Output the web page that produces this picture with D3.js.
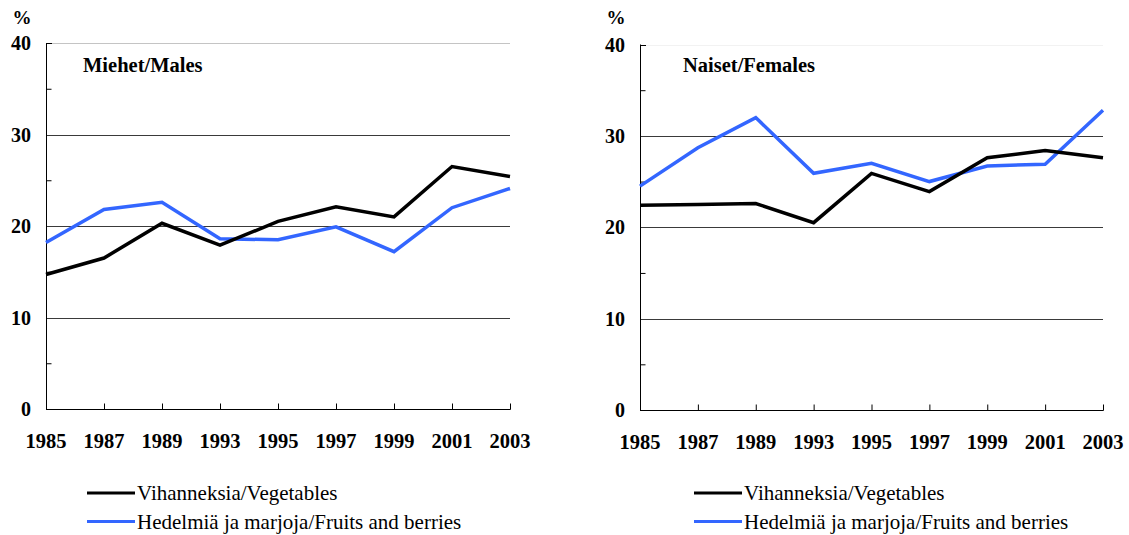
<!DOCTYPE html>
<html>
<head>
<meta charset="utf-8">
<script src="https://cdn.jsdelivr.net/npm/d3@7"></script>
<style>
  body { margin: 0; background: #fff; }
  svg { display: block; }
</style>
</head>
<body>
<div id="chart"></div>
<script>
// years on the x axis (not evenly spaced in time, just categories)
const years = ["1985", "1987", "1989", "1993", "1995", "1997", "1999", "2001", "2003"];
const yTicks = [0, 10, 20, 30, 40];
const yMinor = [5, 15, 25, 35];

// Miehet/Males
const malesVeg = [14.7, 16.5, 20.3, 17.9, 20.5, 22.1, 21.0, 26.5, 25.4];
const malesFruit = [18.2, 21.8, 22.6, 18.6, 18.5, 19.9, 17.2, 22.0, 24.1];

// Naiset/Females
const femalesVeg = [22.4, 22.5, 22.6, 20.5, 25.9, 23.9, 27.6, 28.4, 27.6];
const femalesFruit = [24.5, 28.7, 32.0, 25.9, 27.0, 25.0, 26.7, 26.9, 32.8];

const seriesNames = ["Vihanneksia/Vegetables", "Hedelmiä ja marjoja/Fruits and berries"];
const seriesColors = ["#000000", "#3366ff"];

const FONT = "'Liberation Serif'";

(function() {
  let width = 1129, height = 535;

  let svg = d3.select("#chart")
    .append("svg")
    .attr("width", width)
    .attr("height", height);

  let panels = [
    { title: "Miehet/Males", data: [malesVeg, malesFruit], x0: 46, x1: 510, top: 43, bottom: 409, topGrid: "#c4c4c4", titleX: 83, legendX: 87 },
    { title: "Naiset/Females", data: [femalesVeg, femalesFruit], x0: 640, x1: 1103, top: 44.5, bottom: 410, topGrid: "#f2f2f2", titleX: 683, legendX: 694 }
  ];

  panels.forEach(drawPanel);

  function label(g) {
    return g.append("text")
      .style("font-family", FONT)
      .attr("fill", "#000");
  }

  function drawPanel(p) {
    let g = svg.append("g");

    let x = d3.scalePoint()
      .domain(years)
      .range([p.x0, p.x1]);

    let y = d3.scaleLinear()
      .domain([0, 40])
      .range([p.bottom, p.top]);

    // gridlines
    g.selectAll(".grid")
      .data(yTicks.filter(d => d > 0))
      .enter().append("line")
      .attr("x1", p.x0)
      .attr("x2", p.x1)
      .attr("y1", d => Math.round(y(d)) + 0.5)
      .attr("y2", d => Math.round(y(d)) + 0.5)
      .attr("stroke", d => d === 40 ? p.topGrid : "#3a3a3a")
      .attr("stroke-width", 1);

    // y axis with inward ticks
    let yAxis = g.append("g")
      .attr("transform", "translate(" + (p.x0 + 0.5) + ",0)")
      .call(d3.axisRight(y).tickValues(yMinor).tickSize(5).tickFormat(""));
    yAxis.select(".domain").remove();

    g.append("line")
      .attr("x1", p.x0 + 0.5).attr("x2", p.x0 + 0.5)
      .attr("y1", p.top).attr("y2", p.bottom)
      .attr("stroke", "#000");

    g.append("line")
      .attr("x1", p.x0 + 0.5).attr("x2", p.x0 + 6)
      .attr("y1", Math.round(y(40)) + 0.5).attr("y2", Math.round(y(40)) + 0.5)
      .attr("stroke", "#000");

    yTicks.forEach(function(d) {
      label(g)
        .attr("x", p.x0 - 15)
        .attr("y", y(d))
        .attr("dy", "0.35em")
        .attr("text-anchor", "end")
        .style("font-size", "20px")
        .style("font-weight", "bold")
        .text(d);
    });

    // x axis with upward ticks
    let xAxis = g.append("g")
      .attr("transform", "translate(0," + (p.bottom + 0.5) + ")")
      .call(d3.axisTop(x).tickSize(6).tickFormat(""));
    xAxis.select(".domain").remove();
    g.append("line")
      .attr("x1", p.x0).attr("x2", p.x1 + 0.5)
      .attr("y1", p.bottom + 0.5).attr("y2", p.bottom + 0.5)
      .attr("stroke", "#000");

    years.forEach(function(d) {
      label(g)
        .attr("x", x(d))
        .attr("y", p.bottom + 32)
        .attr("dy", "0.35em")
        .attr("text-anchor", "middle")
        .style("font-size", "20.5px")
        .style("font-weight", "bold")
        .text(d);
    });

    label(g)
      .attr("x", p.x0 - 24)
      .attr("y", 17)
      .attr("dy", "0.35em")
      .attr("text-anchor", "middle")
      .style("font-size", "19px")
      .style("font-weight", "bold")
      .text("%");

    label(g)
      .attr("x", p.titleX)
      .attr("y", 65)
      .attr("dy", "0.35em")
      .style("font-size", "20.5px")
      .style("font-weight", "bold")
      .text(p.title);

    let line = d3.line()
      .x((d, i) => x(years[i]))
      .y(d => y(d));

    // blue first so the black line sits on top where they cross
    [1, 0].forEach(function(k) {
      g.append("path")
        .datum(p.data[k])
        .attr("d", line)
        .attr("fill", "none")
        .attr("stroke", seriesColors[k])
        .attr("stroke-width", 3.5)
        .attr("stroke-linejoin", "miter");
    });

    // legend
    let lx = p.legendX;
    seriesNames.forEach(function(name, i) {
      let ly = 493 + i * 28.5;
      g.append("line")
        .attr("x1", lx).attr("x2", lx + 48)
        .attr("y1", ly).attr("y2", ly)
        .attr("stroke", seriesColors[i])
        .attr("stroke-width", 3);
      label(g)
        .attr("x", lx + 50)
        .attr("y", ly)
        .attr("dy", "0.35em")
        .style("font-size", "21px")
        .text(name);
    });
  }
})();
</script>
</body>
</html>
